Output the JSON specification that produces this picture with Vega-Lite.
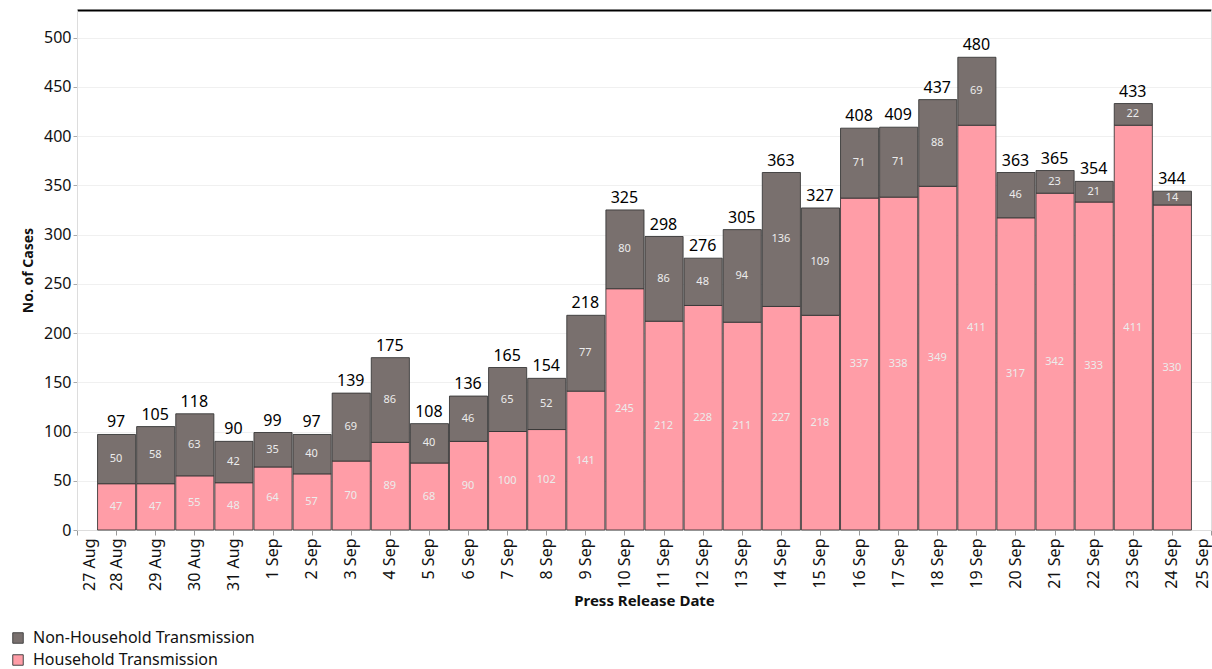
{
  "$schema": "https://vega.github.io/schema/vega-lite/v6.json",
  "width": 1134,
  "height": 520,
  "autosize": {"type": "none"},
  "padding": {"left": 77, "top": 10, "right": 1, "bottom": 139},
  "background": "white",
  "config": {"font": "Noto Sans", "view": {"stroke": null}},
  "data": {
    "values": [
      {"date": "2021-08-28", "Household Transmission": 47, "Non-Household Transmission": 50},
      {"date": "2021-08-29", "Household Transmission": 47, "Non-Household Transmission": 58},
      {"date": "2021-08-30", "Household Transmission": 55, "Non-Household Transmission": 63},
      {"date": "2021-08-31", "Household Transmission": 48, "Non-Household Transmission": 42},
      {"date": "2021-09-01", "Household Transmission": 64, "Non-Household Transmission": 35},
      {"date": "2021-09-02", "Household Transmission": 57, "Non-Household Transmission": 40},
      {"date": "2021-09-03", "Household Transmission": 70, "Non-Household Transmission": 69},
      {"date": "2021-09-04", "Household Transmission": 89, "Non-Household Transmission": 86},
      {"date": "2021-09-05", "Household Transmission": 68, "Non-Household Transmission": 40},
      {"date": "2021-09-06", "Household Transmission": 90, "Non-Household Transmission": 46},
      {"date": "2021-09-07", "Household Transmission": 100, "Non-Household Transmission": 65},
      {"date": "2021-09-08", "Household Transmission": 102, "Non-Household Transmission": 52},
      {"date": "2021-09-09", "Household Transmission": 141, "Non-Household Transmission": 77},
      {"date": "2021-09-10", "Household Transmission": 245, "Non-Household Transmission": 80},
      {"date": "2021-09-11", "Household Transmission": 212, "Non-Household Transmission": 86},
      {"date": "2021-09-12", "Household Transmission": 228, "Non-Household Transmission": 48},
      {"date": "2021-09-13", "Household Transmission": 211, "Non-Household Transmission": 94},
      {"date": "2021-09-14", "Household Transmission": 227, "Non-Household Transmission": 136},
      {"date": "2021-09-15", "Household Transmission": 218, "Non-Household Transmission": 109},
      {"date": "2021-09-16", "Household Transmission": 337, "Non-Household Transmission": 71},
      {"date": "2021-09-17", "Household Transmission": 338, "Non-Household Transmission": 71},
      {"date": "2021-09-18", "Household Transmission": 349, "Non-Household Transmission": 88},
      {"date": "2021-09-19", "Household Transmission": 411, "Non-Household Transmission": 69},
      {"date": "2021-09-20", "Household Transmission": 317, "Non-Household Transmission": 46},
      {"date": "2021-09-21", "Household Transmission": 342, "Non-Household Transmission": 23},
      {"date": "2021-09-22", "Household Transmission": 333, "Non-Household Transmission": 21},
      {"date": "2021-09-23", "Household Transmission": 411, "Non-Household Transmission": 22},
      {"date": "2021-09-24", "Household Transmission": 330, "Non-Household Transmission": 14}
    ]
  },
  "transform": [
    {"fold": ["Household Transmission", "Non-Household Transmission"], "as": ["series", "cases"]}
  ],
  "resolve": {"axis": {"x": "independent", "y": "independent"}},
  "layer": [
    {
      "mark": {"type": "bar", "stroke": "#333333", "strokeWidth": 1, "strokeOpacity": 0.85},
      "encoding": {
        "x": {
          "field": "date", "timeUnit": "utcyearmonthdate", "type": "temporal",
          "title": "Press Release Date",
          "scale": {"domain": [
            {"year": 2021, "month": 8, "date": 27, "hours": 12, "utc": true},
            {"year": 2021, "month": 9, "date": 25, "hours": 12, "utc": true}
          ]},
          "axis": {
            "orient": "bottom",
            "values": [
              {"year": 2021, "month": 8, "date": 27, "hours": 12, "utc": true},
              {"year": 2021, "month": 8, "date": 28, "hours": 12, "utc": true},
              {"year": 2021, "month": 8, "date": 29, "hours": 12, "utc": true},
              {"year": 2021, "month": 8, "date": 30, "hours": 12, "utc": true},
              {"year": 2021, "month": 8, "date": 31, "hours": 12, "utc": true},
              {"year": 2021, "month": 9, "date": 1, "hours": 12, "utc": true},
              {"year": 2021, "month": 9, "date": 2, "hours": 12, "utc": true},
              {"year": 2021, "month": 9, "date": 3, "hours": 12, "utc": true},
              {"year": 2021, "month": 9, "date": 4, "hours": 12, "utc": true},
              {"year": 2021, "month": 9, "date": 5, "hours": 12, "utc": true},
              {"year": 2021, "month": 9, "date": 6, "hours": 12, "utc": true},
              {"year": 2021, "month": 9, "date": 7, "hours": 12, "utc": true},
              {"year": 2021, "month": 9, "date": 8, "hours": 12, "utc": true},
              {"year": 2021, "month": 9, "date": 9, "hours": 12, "utc": true},
              {"year": 2021, "month": 9, "date": 10, "hours": 12, "utc": true},
              {"year": 2021, "month": 9, "date": 11, "hours": 12, "utc": true},
              {"year": 2021, "month": 9, "date": 12, "hours": 12, "utc": true},
              {"year": 2021, "month": 9, "date": 13, "hours": 12, "utc": true},
              {"year": 2021, "month": 9, "date": 14, "hours": 12, "utc": true},
              {"year": 2021, "month": 9, "date": 15, "hours": 12, "utc": true},
              {"year": 2021, "month": 9, "date": 16, "hours": 12, "utc": true},
              {"year": 2021, "month": 9, "date": 17, "hours": 12, "utc": true},
              {"year": 2021, "month": 9, "date": 18, "hours": 12, "utc": true},
              {"year": 2021, "month": 9, "date": 19, "hours": 12, "utc": true},
              {"year": 2021, "month": 9, "date": 20, "hours": 12, "utc": true},
              {"year": 2021, "month": 9, "date": 21, "hours": 12, "utc": true},
              {"year": 2021, "month": 9, "date": 22, "hours": 12, "utc": true},
              {"year": 2021, "month": 9, "date": 23, "hours": 12, "utc": true},
              {"year": 2021, "month": 9, "date": 24, "hours": 12, "utc": true},
              {"year": 2021, "month": 9, "date": 25, "hours": 12, "utc": true}
            ],
            "labelExpr": "utcFormat(datum.value, '%-d %b')",
            "labelAngle": -90,
            "labelFontSize": 16,
            "labelColor": "#111111",
            "labelPadding": 3,
            "labelOverlap": false,
            "labelFlush": false,
            "labelOffset": {"expr": "datum.index == 0 ? 12 : (datum.index == 1 ? -9 : 0)"},
            "tickColor": "#999999",
            "tickSize": 5,
            "domainColor": "#dddddd",
            "grid": false,
            "titleFontSize": 15,
            "titleFontWeight": "bold",
            "titleColor": "#111111",
            "titlePadding": 3
          }
        },
        "y": {
          "field": "cases", "type": "quantitative", "stack": "zero",
          "title": "No. of Cases",
          "scale": {"domain": [0, 528], "nice": false},
          "axis": {
            "orient": "left",
            "values": [0, 50, 100, 150, 200, 250, 300, 350, 400, 450, 500],
            "labelFontSize": 16,
            "labelColor": "#111111",
            "labelPadding": 2,
            "tickColor": "#aaaaaa",
            "tickSize": 4,
            "domainColor": "#dddddd",
            "gridColor": "#f0f0f0",
            "titleFontSize": 14,
            "titleFontWeight": "bold",
            "titleColor": "#111111",
            "titlePadding": 8
          }
        },
        "color": {
          "field": "series", "type": "nominal",
          "scale": {
            "domain": ["Non-Household Transmission", "Household Transmission"],
            "range": ["#79706E", "#FF9DA7"]
          },
          "legend": {
            "orient": "none",
            "legendX": -67,
            "legendY": 620,
            "title": null,
            "symbolType": "square",
            "symbolSize": 110,
            "symbolStrokeColor": "#444444",
            "symbolStrokeWidth": 1,
            "labelFontSize": 16,
            "labelLimit": 400,
            "labelColor": "#111111",
            "labelOffset": 7,
            "rowPadding": 6
          }
        },
        "order": {"field": "series", "sort": "ascending"}
      }
    },
    {
      "mark": {"type": "text", "fontSize": 11, "color": "#ececec", "baseline": "middle"},
      "encoding": {
        "x": {
          "field": "date", "timeUnit": "utcyearmonthdate", "type": "temporal", "bandPosition": 0.5,
          "axis": {"orient": "top", "labels": false, "ticks": false, "grid": false, "title": null, "domainColor": "#000000", "domainWidth": 2}
        },
        "y": {
          "field": "cases", "type": "quantitative", "stack": "zero", "bandPosition": 0.5,
          "axis": {"orient": "right", "labels": false, "ticks": false, "grid": false, "title": null, "domainColor": "#dddddd"}
        },
        "detail": {"field": "series", "type": "nominal"},
        "order": {"field": "series", "sort": "ascending"},
        "text": {"field": "cases", "type": "quantitative"}
      }
    },
    {
      "transform": [
        {"aggregate": [{"op": "sum", "field": "cases", "as": "total"}], "groupby": ["date"]}
      ],
      "mark": {"type": "text", "fontSize": 16, "color": "#000000", "baseline": "alphabetic", "dy": -7},
      "encoding": {
        "x": {"field": "date", "timeUnit": "utcyearmonthdate", "type": "temporal", "bandPosition": 0.5, "axis": null},
        "y": {"field": "total", "type": "quantitative", "axis": null},
        "text": {"field": "total", "type": "quantitative"}
      }
    }
  ]
}
